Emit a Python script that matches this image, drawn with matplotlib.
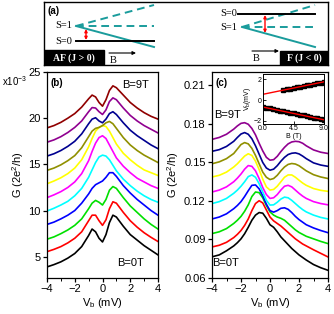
import numpy as np
import matplotlib
matplotlib.use('Agg')
import matplotlib.pyplot as plt

# ---- panel (b): G vs Vb, 11 field values (0 -> 9 T), units 1e-3 (2e^2/h)
vb_b = [-4, -3.5, -3, -2.5, -2, -1.5, -1, -0.75, -0.5, -0.25, 0, 0.25, 0.5, 0.75, 1, 1.5, 2, 2.5, 3, 3.5, 4]
g_b = [
    [3.9, 4.15, 4.45, 4.85, 5.35, 6.1, 7.3, 8.0, 7.7, 7.0, 6.6, 7.4, 8.7, 9.5, 9.3, 8.3, 7.4, 6.8, 6.2, 5.7, 5.2],
    [5.55, 5.8, 6.1, 6.5, 7.0, 7.7, 8.9, 9.5, 9.5, 8.9, 8.4, 9.0, 10.2, 10.95, 10.8, 9.8, 8.9, 8.2, 7.6, 7.1, 6.65],
    [6.9, 7.15, 7.5, 7.9, 8.4, 9.1, 10.2, 10.8, 11.1, 10.9, 10.6, 11.2, 12.2, 12.6, 12.4, 11.4, 10.5, 9.8, 9.1, 8.5, 8.0],
    [8.5, 8.75, 9.1, 9.5, 10.0, 10.8, 11.8, 12.4, 12.8, 13.0, 13.2, 13.6, 14.1, 14.1, 13.7, 12.7, 11.9, 11.2, 10.6, 10.0, 9.5],
    [9.95, 10.25, 10.6, 11.0, 11.6, 12.4, 13.6, 14.4, 15.2, 15.8, 16.0, 15.9, 15.5, 14.9, 14.3, 13.4, 12.7, 12.1, 11.6, 11.2, 10.9],
    [11.4, 11.7, 12.05, 12.5, 13.1, 14.0, 15.4, 16.4, 17.3, 17.9, 18.1, 17.8, 17.1, 16.4, 15.7, 14.8, 14.1, 13.5, 13.1, 12.7, 12.4],
    [12.9, 13.2, 13.55, 14.0, 14.6, 15.5, 16.9, 17.8, 18.6, 19.0, 19.2, 19.1, 18.6, 17.9, 17.2, 16.2, 15.5, 14.9, 14.4, 14.1, 13.8],
    [14.35, 14.6, 14.95, 15.4, 15.95, 16.8, 18.0, 18.6, 18.9, 19.0, 19.2, 19.5, 19.65, 19.4, 18.9, 17.9, 17.1, 16.5, 16.0, 15.6, 15.2],
    [15.9, 16.15, 16.5, 16.95, 17.5, 18.3, 19.4, 19.9, 20.05, 19.7, 19.5, 19.9, 20.5, 20.7, 20.4, 19.5, 18.7, 18.1, 17.6, 17.1, 16.7],
    [17.4, 17.65, 18.0, 18.45, 19.0, 19.7, 20.7, 21.15, 21.1, 20.7, 20.4, 20.9, 21.8, 22.2, 22.0, 21.1, 20.3, 19.7, 19.2, 18.8, 18.4],
    [18.95, 19.2, 19.55, 20.0, 20.5, 21.2, 22.1, 22.5, 22.3, 21.7, 21.3, 22.0, 23.0, 23.5, 23.3, 22.5, 21.7, 21.1, 20.6, 20.2, 19.9],
]
colors_b = ['black', '#ff0000', '#00e000', '#0000ff', '#00ffff', '#ff00ff', '#ffff00',
            '#909000', '#000090', '#900090', '#900000']

# ---- panel (c): G vs Vb, B = 0..9 T
vb_c = [-4, -3.5, -3, -2.5, -2.25, -2, -1.75, -1.5, -1.25, -1, -0.75, -0.5, -0.25, 0,
        0.25, 0.5, 0.75, 1, 1.25, 1.5, 1.75, 2, 2.25, 2.5, 3, 3.5, 4]
g_c = [
    [.0765, .078, .0812, .085, .0875, .0905, .0945, .0995, .105, .109, .111, .1105, .1065, .1015,
     .0995, .096, .092, .089, .086, .083, .0805, .078, .076, .074, .0705, .068, .066],
    [.0842, .0855, .0878, .0915, .094, .097, .101, .106, .1125, .118, .1202, .1185, .113, .1075,
     .1045, .1025, .1005, .098, .0955, .093, .0905, .0885, .0865, .085, .082, .0792, .0764],
    [.0946, .096, .0985, .1025, .105, .108, .112, .117, .1235, .127, .1265, .1225, .1165, .1115,
     .109, .1075, .1065, .105, .1025, .100, .0975, .0955, .094, .0925, .0905, .0885, .0868],
    [.106, .1075, .110, .114, .1165, .1195, .1235, .128, .1322, .1325, .1295, .124, .1175, .1125,
     .1113, .1125, .1143, .1147, .1135, .111, .108, .1055, .1035, .1015, .099, .097, .0953],
    [.118, .1195, .122, .126, .1285, .1315, .135, .139, .1403, .1385, .1335, .127, .1205, .1168,
     .117, .119, .1215, .123, .1225, .1205, .118, .1155, .1133, .1115, .109, .1072, .106],
    [.127, .1285, .131, .135, .1378, .141, .1448, .1476, .147, .1435, .1375, .1305, .125, .122,
     .1225, .125, .1285, .1315, .1322, .131, .1285, .126, .1238, .122, .1195, .118, .117],
    [.1387, .140, .1425, .1465, .149, .152, .155, .1568, .1555, .151, .1445, .137, .131, .1285,
     .129, .1315, .135, .1385, .1403, .1403, .1385, .1362, .134, .1322, .1297, .1283, .1275],
    [.149, .1505, .153, .157, .1605, .164, .1655, .1645, .161, .1555, .149, .1425, .1385, .1367,
     .1375, .140, .1435, .1465, .1485, .1492, .1488, .1475, .1455, .1435, .1405, .1387, .1375],
    [.1587, .160, .1625, .1665, .1695, .1722, .1733, .172, .1685, .163, .1565, .150, .1457, .144,
     .1448, .1475, .151, .154, .1562, .1572, .1575, .1567, .155, .153, .1497, .148, .147],
    [.168, .1695, .172, .176, .1785, .1805, .181, .1798, .1765, .1715, .165, .159, .154, .1518,
     .1522, .1548, .1585, .1618, .1645, .166, .1665, .1662, .165, .163, .1598, .158, .157],
]
colors_c = ['black', '#ff0000', '#00e000', '#0000ff', '#00ffff', '#ff00ff', '#ffff00',
            '#909000', '#000090', '#900090']

# ---- inset: peak positions vs B
b_low = [0, 0.5, 1, 1.5, 2, 2.5, 3, 3.5, 4, 4.5, 5, 5.5, 6, 6.5, 7, 7.5, 8, 8.5, 9]
v_low = [-0.68, -0.74, -0.80, -0.88, -0.94, -1.02, -1.08, -1.15, -1.22, -1.28, -1.35,
         -1.43, -1.48, -1.55, -1.62, -1.70, -1.76, -1.82, -1.90]
b_up = [3, 3.5, 4, 4.5, 5, 5.5, 6, 6.5, 7, 7.5, 8, 8.5, 9]
v_up = [0.95, 1.02, 1.08, 1.15, 1.22, 1.28, 1.36, 1.42, 1.48, 1.55, 1.62, 1.68, 1.75]

W, H = 334, 314
fig = plt.figure(figsize=(W / 100, H / 100), dpi=100)
plt.rcParams['font.family'] = ['Liberation Sans', 'DejaVu Sans']

def fax(l, t, r, b):
    return fig.add_axes([l / W, 1 - b / H, (r - l) / W, (b - t) / H])

# ---------------- panel (a): schematic, drawn in figure pixel units
teal = '#1a9c9c'
ax_a = fax(44, 2, 328, 65)
ax_a.set_xlim(44, 328)
ax_a.set_ylim(65, 2)
ax_a.set_xticks([])
ax_a.set_yticks([])
for s in ax_a.spines.values():
    s.set_linewidth(1.0)
serif = 'Liberation Serif'
dbl = dict(arrowstyle='<|-|>', color='red', lw=1, mutation_scale=4, shrinkA=0, shrinkB=0)
one = dict(arrowstyle='-|>', color='black', lw=0.8, mutation_scale=5, shrinkA=0, shrinkB=0)
# AF side
ax_a.plot([76, 154], [26, 5], color=teal, lw=1.4, ls=(0, (4, 2.5)))
ax_a.plot([76, 154], [26, 26], color=teal, lw=1.4, ls=(0, (4, 2.5)))
ax_a.plot([76, 154], [26, 47], color=teal, lw=1.4)
ax_a.plot([76, 154], [41, 41], color='black', lw=1.4)
ax_a.annotate('', xy=(86, 29), xytext=(86, 40), arrowprops=dbl)
ax_a.text(72, 26, 'S=1', family=serif, fontsize=7.5, ha='right', va='center')
ax_a.text(72, 42, 'S=0', family=serif, fontsize=7.5, ha='right', va='center')
ax_a.text(47, 11, '(a)', fontsize=7, fontweight='bold', ha='left', va='center')
ax_a.add_patch(plt.Rectangle((44, 50), 60, 15, color='black'))
ax_a.text(74, 58, 'AF (J > 0)', family=serif, fontsize=7, fontweight='bold',
          color='white', ha='center', va='center')
ax_a.annotate('', xy=(136, 53), xytext=(109, 53), arrowprops=one)
ax_a.text(110, 60, 'B', family=serif, fontsize=7.5, ha='left', va='center')
# F side
ax_a.plot([242, 315], [27, 5], color=teal, lw=1.4, ls=(0, (4, 2.5)))
ax_a.plot([242, 315], [27, 27], color=teal, lw=1.4, ls=(0, (4, 2.5)))
ax_a.plot([242, 315], [27, 47], color=teal, lw=1.4)
ax_a.plot([238, 315], [14, 14], color='black', lw=1.4)
ax_a.annotate('', xy=(265, 15), xytext=(265, 33), arrowprops=dbl)
ax_a.text(237, 14, 'S=0', family=serif, fontsize=7.5, ha='right', va='center')
ax_a.text(237, 28, 'S=1', family=serif, fontsize=7.5, ha='right', va='center')
ax_a.add_patch(plt.Rectangle((280, 51), 48, 14, color='black'))
ax_a.text(304, 58, 'F (J < 0)', family=serif, fontsize=7, fontweight='bold',
          color='white', ha='center', va='center')
ax_a.annotate('', xy=(279, 51), xytext=(252, 51), arrowprops=one)
ax_a.text(253, 58, 'B', family=serif, fontsize=7.5, ha='left', va='center')

def style(ax):
    ax.tick_params(direction='out', length=3, width=0.9, labelsize=8, pad=1.5)
    ax.tick_params(which='minor', direction='out', length=2, width=0.7)
    for s in ax.spines.values():
        s.set_linewidth(0.9)

# ---------------- panel (b)
ax_b = fax(47, 72, 158, 278)
for g, c in zip(g_b, colors_b):
    ax_b.plot(vb_b, g, color=c, lw=1.2)
ax_b.set_xlim(-4, 4)
ax_b.set_ylim(2.7, 25)
ax_b.set_xticks([-4, -2, 0, 2, 4])
ax_b.set_xticks([-3, -1, 1, 3], minor=True)
ax_b.set_yticks([5, 10, 15, 20, 25])
style(ax_b)
ax_b.set_xlabel('V$_\\mathregular{b}$ (mV)', fontsize=8, labelpad=1)
ax_b.set_ylabel('G (2e$^\\mathregular{2}$/h)', fontsize=8, labelpad=2)
ax_b.text(0.03, 0.97, '(b)', transform=ax_b.transAxes, fontsize=7,
          fontweight='bold', ha='left', va='top')
ax_b.text(2.4, 23.6, 'B=9T', fontsize=8, ha='center', va='center')
ax_b.text(2.05, 4.3, 'B=0T', fontsize=8, ha='center', va='center')
fig.text(2 / W, 1 - 81 / H, 'x10$^\\mathregular{-3}$', fontsize=7, ha='left', va='center')

# ---------------- panel (c)
ax_c = fax(212, 72, 328, 278)
for g, c in zip(g_c, colors_c):
    ax_c.plot(vb_c, g, color=c, lw=1.2)
ax_c.set_xlim(-4, 4)
ax_c.set_ylim(0.06, 0.2205)
ax_c.set_xticks([-4, -2, 0, 2, 4])
ax_c.set_xticks([-3, -1, 1, 3], minor=True)
ax_c.set_yticks([0.06, 0.09, 0.12, 0.15, 0.18, 0.21])
ax_c.set_yticklabels(['0.06', '0.09', '0.12', '0.15', '0.18', '0.21'])
style(ax_c)
ax_c.set_xlabel('V$_\\mathregular{b}$ (mV)', fontsize=8, labelpad=1)
ax_c.set_ylabel('G (2e$^\\mathregular{2}$/h)', fontsize=8, labelpad=2)
ax_c.text(0.03, 0.97, '(c)', transform=ax_c.transAxes, fontsize=7,
          fontweight='bold', ha='left', va='top')
ax_c.text(-2.95, 0.187, 'B=9T', fontsize=8, ha='center', va='center')
ax_c.text(-3.05, 0.0715, 'B=0T', fontsize=8, ha='center', va='center')

# ---------------- inset
ax_i = fax(263, 74, 324, 124)
ax_i.plot(b_low, v_low, 's', color='black', ms=2.5)
ax_i.plot(b_up, v_up, 's', color='black', ms=2.5)
bfit = np.array([0, 9])
for bb, vv in [(b_low, v_low), (b_up, v_up)]:
    k, c0 = np.polyfit(bb, vv, 1)
    ax_i.plot(bfit, k * bfit + c0, color='red', lw=1)
ax_i.set_xlim(0, 9)
ax_i.set_ylim(-2.3, 2.5)
ax_i.set_xticks([0, 4.5, 9])
ax_i.set_xticklabels(['0.0', '4.5', '9.0'])
ax_i.set_yticks([-2, 0, 2])
ax_i.tick_params(direction='in', length=2, width=0.6, labelsize=5, pad=1)
for s in ax_i.spines.values():
    s.set_linewidth(0.7)
ax_i.set_xlabel('B (T)', fontsize=5, labelpad=0.5)
ax_i.set_ylabel('V$_\\mathregular{b}$(mV)', fontsize=5, labelpad=0.5)

fig.savefig('out.png', dpi=100)
